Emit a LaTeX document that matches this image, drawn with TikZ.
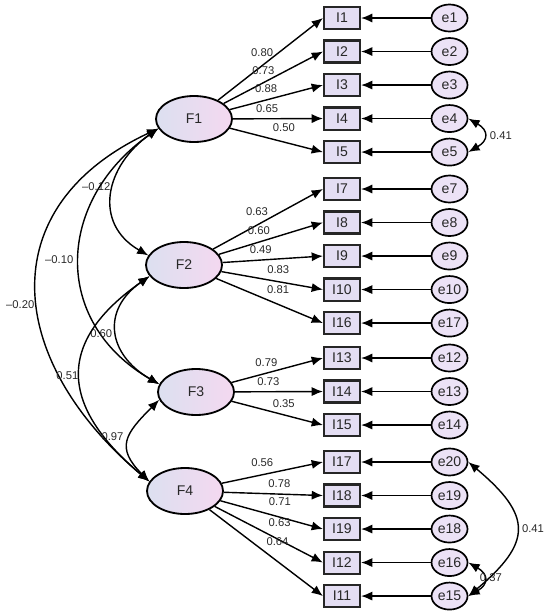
\documentclass[tikz,border=0pt]{standalone}
\usepackage{fontspec}
\setmainfont{Liberation Sans}
\usepackage{xcolor}
\usepackage{tikz}
\usetikzlibrary{positioning, arrows.meta, shapes.geometric}
\definecolor{latentL}{RGB}{220,224,240}
\definecolor{latentR}{RGB}{244,216,240}
\definecolor{itemfill}{RGB}{228,222,243}
\definecolor{errfill}{RGB}{236,226,246}
\definecolor{txt}{RGB}{40,40,40}
\tikzset{
    latent/.style={ellipse, draw=black, line width=1.3pt, left color=latentL, right color=latentR, minimum width=1.9cm, minimum height=1.15cm, inner sep=0pt, font=\fontsize{10}{12}\selectfont, text=txt},
    item/.style={rectangle, draw=black!85, line width=1.5pt, fill=itemfill, minimum width=0.9cm, minimum height=0.55cm, inner sep=0pt, font=\fontsize{10}{12}\selectfont, text=txt},
    err/.style={ellipse, draw=black, line width=1.2pt, fill=errfill, minimum width=0.9cm, minimum height=0.675cm, inner sep=0pt, font=\fontsize{10}{12}\selectfont, text=txt},
    arrow/.style={-{Latex[length=8pt, width=6.5pt]}, line width=1pt},
    cov/.style={{Latex[length=8pt, width=6.5pt]}-{Latex[length=8pt, width=6.5pt]}, line width=1pt},
    lbl/.style={font=\fontsize{8}{9}\selectfont, text=txt, inner sep=0pt}
}

\begin{document}
\begin{tikzpicture}[x=0.025cm, y=0.025cm, node distance=0.235cm]
        \useasboundingbox (0,0) rectangle (550,-613);

        % Latent factors
        \node[latent] (F1) at (194,-119) {F1};
        \node[latent] (F2) at (184,-265) {F2};
        \node[latent] (F3) at (196,-392) {F3};
        \node[latent] (F4) at (185,-491) {F4};

        % Indicators
        \node[item] (I1) at (342,-18) {I1};
        \node[item, below=of I1] (I2) {I2};
        \node[item, below=of I2] (I3) {I3};
        \node[item, below=of I3] (I4) {I4};
        \node[item, below=of I4] (I5) {I5};

        \node[item] (I7) at (342,-189) {I7};
        \node[item, below=of I7] (I8) {I8};
        \node[item, below=of I8] (I9) {I9};
        \node[item, below=of I9] (I10) {I10};
        \node[item, below=of I10] (I16) {I16};

        \node[item] (I13) at (342,-358) {I13};
        \node[item, below=of I13] (I14) {I14};
        \node[item, below=of I14] (I15) {I15};

        \node[item] (I17) at (342,-462) {I17};
        \node[item, below=of I17] (I18) {I18};
        \node[item, below=of I18] (I19) {I19};
        \node[item, below=of I19] (I12) {I12};
        \node[item, below=of I12] (I11) {I11};

        % Error terms
        \node[err, right=1.74cm of I1] (e1) {e1};
        \node[err, right=1.74cm of I2] (e2) {e2};
        \node[err, right=1.74cm of I3] (e3) {e3};
        \node[err, right=1.74cm of I4] (e4) {e4};
        \node[err, right=1.74cm of I5] (e5) {e5};
        \node[err, right=1.74cm of I7] (e7) {e7};
        \node[err, right=1.74cm of I8] (e8) {e8};
        \node[err, right=1.74cm of I9] (e9) {e9};
        \node[err, right=1.74cm of I10] (e10) {e10};
        \node[err, right=1.74cm of I16] (e17) {e17};
        \node[err, right=1.74cm of I13] (e12) {e12};
        \node[err, right=1.74cm of I14] (e13) {e13};
        \node[err, right=1.74cm of I15] (e14) {e14};
        \node[err, right=1.74cm of I17] (e20) {e20};
        \node[err, right=1.74cm of I18] (e19) {e19};
        \node[err, right=1.74cm of I19] (e18) {e18};
        \node[err, right=1.74cm of I12] (e16) {e16};
        \node[err, right=1.74cm of I11] (e15) {e15};

        \draw[arrow] (e1) -- (I1);
        \draw[arrow] (e2) -- (I2);
        \draw[arrow] (e3) -- (I3);
        \draw[arrow] (e4) -- (I4);
        \draw[arrow] (e5) -- (I5);
        \draw[arrow] (e7) -- (I7);
        \draw[arrow] (e8) -- (I8);
        \draw[arrow] (e9) -- (I9);
        \draw[arrow] (e10) -- (I10);
        \draw[arrow] (e17) -- (I16);
        \draw[arrow] (e12) -- (I13);
        \draw[arrow] (e13) -- (I14);
        \draw[arrow] (e14) -- (I15);
        \draw[arrow] (e20) -- (I17);
        \draw[arrow] (e19) -- (I18);
        \draw[arrow] (e18) -- (I19);
        \draw[arrow] (e16) -- (I12);
        \draw[arrow] (e15) -- (I11);

        % Loadings
        \draw[arrow] (F1) -- node[lbl, pos=.42, above=6pt] {0.80} (I1.west);
        \draw[arrow] (F1) -- node[lbl, pos=.40, above=5pt] {0.73} (I2.west);
        \draw[arrow] (F1) -- node[lbl, pos=.39, above=5pt] {0.88} (I3.west);
        \draw[arrow] (F1) -- node[lbl, pos=.38, above=4pt] {0.65} (I4.west);
        \draw[arrow] (F1) -- node[lbl, pos=.58, above=7pt] {0.50} (I5.west);

        \draw[arrow] (F2) -- node[lbl, pos=.40, above=6pt] {0.63} (I7.west);
        \draw[arrow] (F2) -- node[lbl, pos=.385, above=5pt] {0.60} (I8.west);
        \draw[arrow] (F2) -- node[lbl, pos=.38, above=4.3pt] {0.49} (I9.west);
        \draw[arrow] (F2) -- node[lbl, pos=.56, above=5pt] {0.83} (I10.west);
        \draw[arrow] (F2) -- node[lbl, pos=.58, above=7pt] {0.81} (I16.west);

        \draw[arrow] (F3) -- node[lbl, pos=.38, above=4.3pt] {0.79} (I13.west);
        \draw[arrow] (F3) -- node[lbl, pos=.38, above=4pt] {0.73} (I14.west);
        \draw[arrow] (F3) -- node[lbl, pos=.57, above=5pt] {0.35} (I15.west);

        \draw[arrow] (F4) -- node[lbl, pos=.40, above=5pt] {0.56} (I17.west);
        \draw[arrow] (F4) -- node[lbl, pos=.56, above=4pt] {0.78} (I18.west);
        \draw[arrow] (F4) -- node[lbl, pos=.58, above=7.4pt] {0.71} (I19.west);
        \draw[arrow] (F4) -- node[lbl, pos=.60, above=9pt] {0.63} (I12.west);
        \draw[arrow] (F4) -- node[lbl, pos=.60, above=11pt] {0.64} (I11.west);

        % Factor covariances
        \draw[cov] (F1.195) to[out=215, in=150, looseness=1.3] node[lbl, pos=.45, left=2pt] {–0.12} (F2.165);
        \draw[cov] (F1.195) to[out=215, in=150, looseness=1.25] node[lbl, pos=.5, left=4pt] {–0.10} (F3.168);
        \draw[cov] (F1.195) to[out=205, in=140, looseness=1.35] node[lbl, pos=.54, left=2pt] {–0.20} (F4.165);
        \draw[cov] (F2.198) to[out=215, in=150, looseness=1.4] node[lbl, pos=.52, left=3pt] {0.60} (F3.168);
        \draw[cov] (F2.198) to[out=215, in=140, looseness=1.45] node[lbl, pos=.5, left=1pt] {0.51} (F4.165);
        \draw[cov] (F3.192) to[out=225, in=135, looseness=1.5] node[lbl, pos=.45, left=4pt] {0.97} (F4.165);

        % Error covariances
        \draw[cov] (e4.east) to[out=-30, in=30, looseness=1.8] node[lbl, right=4pt] {0.41} (e5.east);
        \draw[cov] (e20.east) to[out=-40, in=40, looseness=1.6] node[lbl, right=3.5pt] {0.41} (e15.east);
        \draw[cov] (e16.east) to[out=-30, in=30, looseness=1.8] node[lbl, pos=.45, right=-3pt] {0.37} (e15.east);

    \end{tikzpicture}
\end{document}
